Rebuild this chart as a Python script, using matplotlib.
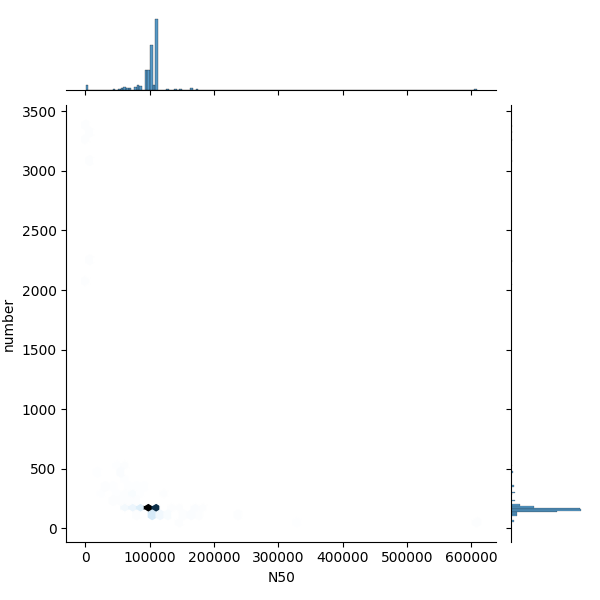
import numpy as np
import pandas as pd
import matplotlib
matplotlib.use("Agg")
import matplotlib.pyplot as plt
import seaborn as sns

# N50 value, number value and how many assemblies share that pair
n50 = [111200, 111200, 111200, 111200, 111200,
       101300, 101300, 101300, 101300, 101300,
       97700, 97700, 97700, 97700, 97700,
       93100, 93100, 93100, 93100,
       106000, 106000,
       87400, 87400, 87400, 87400,
       83800, 83800, 83800, 83800,
       79600, 79600, 79600,
       76000,
       69800, 69800, 69800,
       65200, 65200, 65200,
       61600, 61600, 61600,
       57900, 57900, 57900,
       53200, 53200,
       43900, 43900,
       36000,
       29000,
       20600, 20600,
       1000, 4000, 1500, 2000, 3500, 3000,
       116400, 122600, 129200, 134500, 142300, 142300, 150000,
       164900, 164900, 172200, 178900,
       194000, 203000, 217000, 222000, 235000, 240500, 250000, 279000, 334000,
       605100, 608000]
number = [159, 167, 147, 180, 137,
          159, 167, 147, 180, 137,
          159, 147, 180, 167, 193,
          159, 167, 180, 193,
          126, 137,
          170, 200, 300, 360,
          165, 150, 240, 120,
          170, 290, 360,
          175,
          180, 300, 360,
          240, 180, 420,
          175, 300, 480,
          240, 530, 470,
          290, 530,
          240, 360,
          360,
          300,
          470, 780,
          3384, 3320, 3262, 3084, 2250, 2044,
          126, 296, 126, 175, 175, 55, 115,
          115, 175, 115, 175,
          60, 150, 60, 100, 165, 115, 126, 60, 60,
          55, 60]
counts = [115, 105, 55, 11, 8,
          55, 70, 40, 8, 12,
          25, 30, 10, 10, 10,
          35, 20, 15, 15,
          12, 9,
          8, 5, 2, 2,
          10, 5, 3, 3,
          6, 3, 2,
          4,
          5, 3, 2,
          3, 4, 2,
          6, 4, 3,
          4, 3, 2,
          2, 2,
          3, 2,
          3,
          2,
          2, 1,
          3, 4, 3, 4, 3, 4,
          3, 3, 6, 3, 4, 3, 4,
          5, 5, 4, 3,
          1, 1, 1, 1, 1, 3, 1, 1, 2,
          2, 2]

df = pd.DataFrame({"N50": np.repeat(n50, counts),
                   "number": np.repeat(number, counts)})

color = "C0"
rgb = matplotlib.colors.to_rgb(color)
cmap = sns.blend_palette([sns.utils.set_hls_values(rgb, l=l) for l in np.linspace(1, 0, 12)],
                         as_cmap=True)

g = sns.JointGrid(data=df, x="N50", y="number", height=6)
g.plot_joint(plt.hexbin, gridsize=50, cmap=cmap)
sns.histplot(x=df["N50"], bins=146, color=color, ax=g.ax_marg_x)
sns.histplot(y=df["number"], bins=250, color=color, ax=g.ax_marg_y)
for ax in (g.ax_marg_x, g.ax_marg_y):
    ax.set_xlabel("")
    ax.set_ylabel("")
g.ax_joint.set_xlabel("N50")
g.ax_joint.set_ylabel("number")

g.figure.savefig("out.png", dpi=100)
